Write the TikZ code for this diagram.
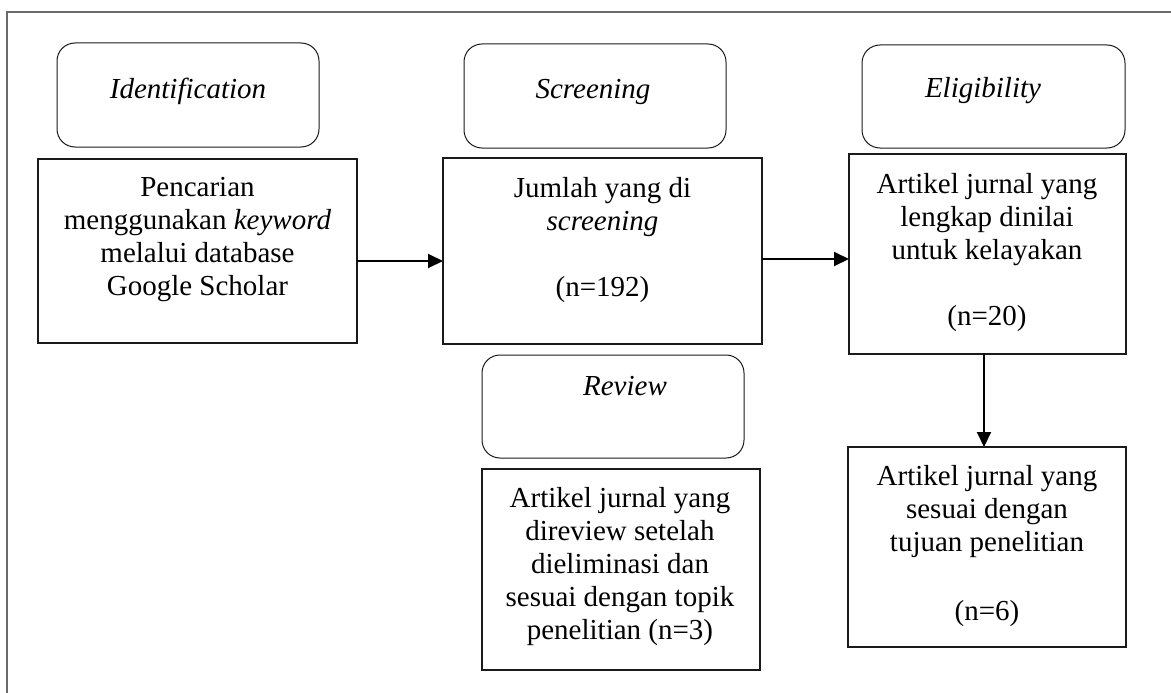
\documentclass[tikz,border=0pt]{standalone}
\usepackage{fontspec}
\setmainfont{Liberation Serif}
\usepackage{xcolor}
\definecolor{cLine}{HTML}{1A1A1A}
\definecolor{cFrame}{HTML}{6A6A6A}
\usetikzlibrary{arrows.meta}
\tikzset{
  node-box/.style={draw=cLine,line width=1.2pt,inner sep=0pt,outer sep=0pt},
  node-phase/.style={draw=cLine,line width=1pt,rounded corners=18pt,
    inner sep=0pt,outer sep=0pt,minimum width=262pt,minimum height=104pt},
  % isi kotak: baris pertama rapat ke atas, bukan di tengah
  node-text/.style={inner sep=0pt,align=center,anchor=north,
    font=\fontsize{29pt}{33pt}\selectfont},
  node-label/.style={inner sep=0pt,anchor=base,
    font=\fontsize{29pt}{33pt}\selectfont\itshape},
  arrow/.style={-{Triangle[length=15pt,width=14pt]},line width=2pt,draw=black},
  frame-line/.style={draw=cFrame,line width=1.6pt},
}

\begin{document}
\begin{tikzpicture}[x=1pt,y=-1pt]
  \useasboundingbox (0,0) rectangle (1171,693);
  \draw[frame-line] (7,693) -- (7,12) -- (1171,12);
  % tahap
  \node[node-phase] (ph-ident) at (188,95) {};
  \node[node-phase] (ph-screen) at (595,96) {};
  \node[node-phase,minimum width=263pt,minimum height=103pt] (ph-elig) at (993.5,96.5) {};
  \node[node-phase,minimum height=103pt] (ph-review) at (613,406.5) {};
  \node[node-label] (t-ident) at (188,99) {Identification};
  \node[node-label] (t-screen-ph) at (593,99) {Screening};
  \node[node-label] (t-elig-ph) at (983,98) {Eligibility};
  \node[node-label] (t-review-ph) at (625,395) {Review};
  % kotak isi
  \node[node-box,minimum width=319pt,minimum height=184pt] (box-search) at (197.5,251) {};
  \node[node-box,minimum width=319pt,minimum height=186pt] (box-screen) at (602.5,251) {};
  \node[node-box,minimum width=277pt,minimum height=200pt] (box-elig) at (987.5,254) {};
  \node[node-box,minimum width=278pt,minimum height=201pt] (box-review) at (621,569.5) {};
  \node[node-box,minimum width=278pt,minimum height=200pt] (box-incl) at (987,547) {};
  \node[node-text] (t-search) at (197.5,177) {Pencarian\\menggunakan \textit{keyword}\\melalui database\\Google Scholar};
  \node[node-text] (t-screen) at (602.5,177) {Jumlah yang di\\\textit{screening}\\[33pt](n=192)};
  \node[node-text] (t-elig) at (987,173) {Artikel jurnal yang\\lengkap dinilai\\untuk kelayakan\\[33pt](n=20)};
  \node[node-text] (t-review) at (620,487) {Artikel jurnal yang\\direview setelah\\dieliminasi dan\\sesuai dengan topik\\penelitian (n=3)};
  \node[node-text] (t-incl) at (987,465) {Artikel jurnal yang\\sesuai dengan\\tujuan penelitian\\[36pt](n=6)};
  \draw[arrow] ([yshift=-10pt]box-search.east) -- ([yshift=-10pt]box-screen.west);
  \draw[arrow] ([yshift=-8pt]box-screen.east) -- ([yshift=-8pt]box-screen.east -| box-elig.west);
  \draw[arrow] ([xshift=-3.5pt]box-elig.south) -- ([xshift=-3.5pt]box-elig.south |- box-incl.north);
\end{tikzpicture}
\end{document}
